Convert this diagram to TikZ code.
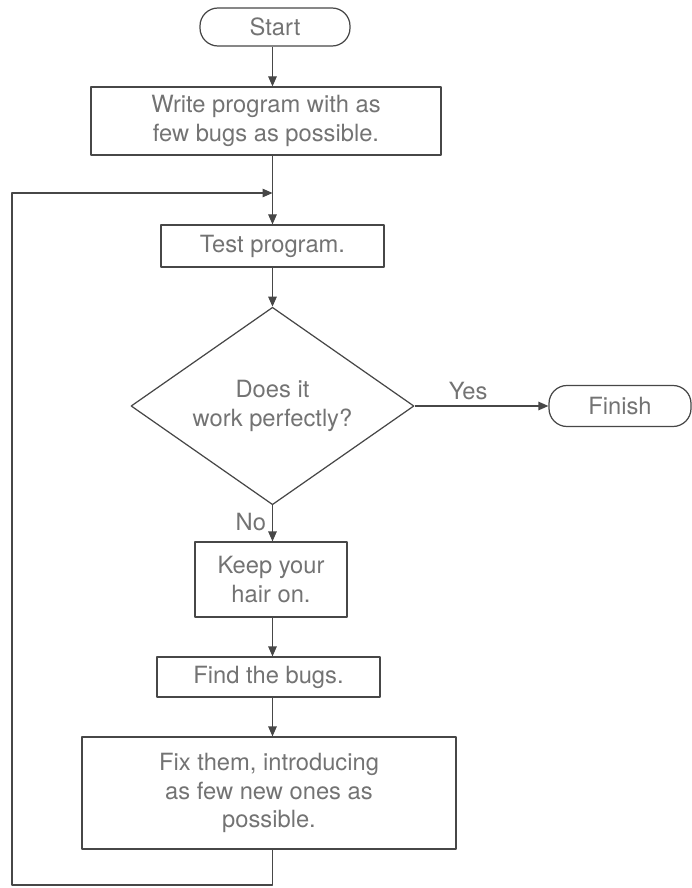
\documentclass[tikz,border=0pt]{standalone}
\usepackage{fontspec}
\setmainfont{TeX Gyre Heros}
\usepackage{tikz}
\usetikzlibrary{arrows.meta,shapes.geometric}
\tikzset{>={Triangle[length=2mm,width=1.7mm]}}

\begin{document}
\begin{tikzpicture}[line join = round,
    every node/.style={text=black!55, font=\fontsize{13.5}{16.4}\selectfont, align=center},
    box/.style={draw=black!72, line width=0.7pt, rectangle, inner sep=0pt},
    term/.style={box, rounded corners=3.6mm},
    decide/.style={draw=black!72, line width=0.7pt, diamond, inner sep=0pt, aspect=1.5},
    flow/.style={draw=black!72, line width=0.7pt}]
    \useasboundingbox (0,0) rectangle (13.84,-17.76);
    \node[term, minimum width=3cm, minimum height=0.76cm] (start) at (5.5,-0.54) {Start};
    \node[box, minimum width=7cm, minimum height=1.36cm] (write) at (5.32,-2.42) {Write program with as\\few bugs as possible.};
    \node[box, minimum width=4.46cm, minimum height=0.84cm] (test) at (5.45,-4.92) {Test program.};
    \node[decide, minimum width=5.66cm, minimum height=3.95cm] (perfect) at (5.45,-8.12) {Does it\\work perfectly?};
    \node[term, minimum width=2.84cm, minimum height=0.82cm] (finish) at (12.4,-8.12) {Finish};
    \node[box, minimum width=3.04cm, minimum height=1.5cm] (calm) at (5.42,-11.59) {Keep your\\hair on.};
    \node[box, minimum width=4.46cm, minimum height=0.8cm] (find) at (5.37,-13.54) {Find the bugs.};
    \node[box, minimum width=7.48cm, minimum height=2.24cm] (fix) at (5.38,-15.86) {Fix them, introducing\\as few new ones as\\possible.};
    \coordinate (merge) at (5.45,-3.86);
    \coordinate (back) at (0.24,-17.7);

    \draw[flow,->] (start.south -| test) -- (write.north -| test);
    \draw[flow,->] (write.south -| test) -- (test);
    \draw[flow,->] (test) -- (perfect);
    \draw[flow,->] (perfect.east) -- node[above, pos=0.4] {Yes} (finish.west);
    \draw[flow,->] (perfect.south) -- node[left, pos=0.45] {No} (calm.north -| perfect.south);
    \draw[flow,->] (calm.south -| test) -- (find.north -| test);
    \draw[flow,->] (find.south -| test) -- (fix.north -| test);
    \draw[flow,->] (fix.south -| test) |- (back) |- (merge);
\end{tikzpicture}
\end{document}
